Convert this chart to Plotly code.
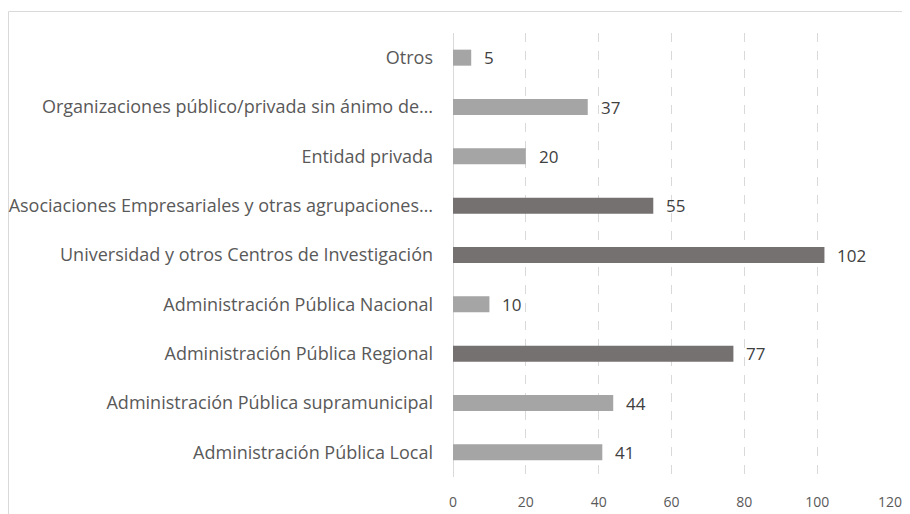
import plotly.graph_objects as go

categories = [
    "Administración Pública Local",
    "Administración Pública supramunicipal",
    "Administración Pública Regional",
    "Administración Pública Nacional",
    "Universidad y otros Centros de Investigación",
    "Asociaciones Empresariales y otras agrupaciones…",
    "Entidad privada",
    "Organizaciones público/privada sin ánimo de…",
    "Otros",
]
values = [41, 44, 77, 10, 102, 55, 20, 37, 5]
highlight = [False, False, True, False, True, True, False, False, False]
x_ticks = [0, 20, 40, 60, 80, 100, 120]

LIGHT = "#A5A5A5"
DARK = "#767171"
colors = [DARK if h else LIGHT for h in highlight]
FONT = "Open Sans, Lato, sans-serif"

# page body has an 8px margin, so the figure is sized to fit the window
W, H = 902, 506
ml, mr, mt, mb = 445, 20, 25, 37

fig = go.Figure()
fig.add_trace(go.Bar(
    x=values, y=categories, orientation="h",
    marker=dict(color=colors, line=dict(width=0)),
    hoverinfo="skip",
))

for v, c in zip(values, categories):
    fig.add_annotation(
        x=v, y=c, text=str(v), showarrow=False,
        xanchor="left", yanchor="middle", xshift=11,
        font=dict(family=FONT, size=17, color="#404040"),
    )

pw = W - ml - mr
ph = H - mt - mb
fig.add_shape(
    type="rect", xref="paper", yref="paper",
    x0=(0.5 - ml) / pw, x1=(W + 20 - ml) / pw,
    y0=(H - mb - (H + 20)) / ph, y1=(H - mb - 3.5) / ph,
    line=dict(color="#D9D9D9", width=1), fillcolor="rgba(0,0,0,0)",
    layer="below",
)

fig.update_layout(
    width=W, height=H,
    margin=dict(l=ml, r=mr, t=mt, b=mb, autoexpand=False),
    paper_bgcolor="white", plot_bgcolor="white",
    bargap=0.675, showlegend=False,
    font=dict(family=FONT, color="#595959"),
)
fig.update_xaxes(
    range=[0, 120], tickvals=x_ticks,
    showgrid=True, gridcolor="#D9D9D9", griddash="dash", gridwidth=1,
    zeroline=False, showline=False,
    ticks="outside", ticklen=12, tickcolor="rgba(0,0,0,0)",
    tickfont=dict(size=14, color="#595959"),
    automargin=False, fixedrange=True,
)
fig.update_yaxes(
    categoryorder="array", categoryarray=categories,
    showgrid=False, zeroline=False, showline=False,
    ticks="", ticklabelstandoff=19,
    tickfont=dict(size=18, color="#595959"),
    automargin=False, fixedrange=True,
)
fig.add_shape(type="line", xref="x", yref="paper", x0=0, x1=0, y0=0, y1=1,
              line=dict(color="#D9D9D9", width=2), layer="below")

fig.write_html("out.html", config={"displayModeBar": False})
